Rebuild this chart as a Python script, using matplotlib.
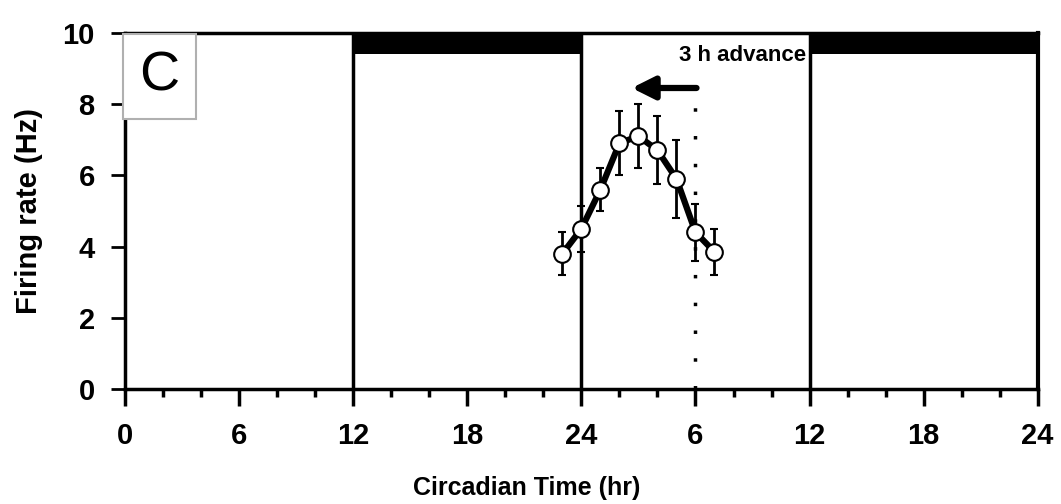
import matplotlib
matplotlib.use("Agg")
import matplotlib.pyplot as plt
from matplotlib.patches import Rectangle

# Firing rate after a 3 h advance (x in hours over two days)
ct_hours = [23, 24, 25, 26, 27, 28, 29, 30, 31]
rate_hz  = [3.8, 4.5, 5.6, 6.9, 7.1, 6.7, 5.9, 4.4, 3.85]
rate_err = [0.6, 0.65, 0.6, 0.9, 0.9, 0.95, 1.1, 0.8, 0.65]

dark_periods = [(12, 24), (36, 48)]
tick_pos     = [0, 6, 12, 18, 24, 30, 36, 42, 48]
tick_labels  = ["0", "6", "12", "18", "24", "6", "12", "18", "24"]
y_ticks      = [0, 2, 4, 6, 8, 10]

fig = plt.figure(figsize=(10.61, 5.04), dpi=100)
ax = fig.add_axes([0.118, 0.228, 0.860, 0.707])

fam = ["Liberation Sans", "DejaVu Sans"]
tick_font = {"family": fam, "weight": "bold", "size": 21}

# dark bars on top + vertical lines at light transitions
for start, end in dark_periods:
    ax.add_patch(Rectangle((start, 9.4), end - start, 0.6, color="black", lw=0, zorder=2))
for xv in [12, 24, 36]:
    ax.axvline(xv, color="black", lw=2.5, zorder=2)
ax.axvline(30, color="black", lw=2.5, ls=(0, (1, 7)), ymax=0.8, zorder=2)

ax.errorbar(ct_hours, rate_hz, yerr=rate_err, color="black", lw=4.5,
            elinewidth=2, capsize=3, capthick=2,
            marker="o", ms=12, mfc="white", mec="black", mew=1.5, zorder=4)

ax.annotate("", xy=(26.5, 8.45), xytext=(30.2, 8.45),
            arrowprops=dict(arrowstyle="-|>", color="black", lw=4.5,
                            mutation_scale=34), zorder=5)
ax.text(35.8, 9.35, "3 h advance", ha="right", va="center", fontsize=16,
        fontweight="bold", family=fam,
        bbox=dict(fc="white", ec="none", pad=1), zorder=3)

ax.text(1.8, 8.78, "C", ha="center", va="center", fontsize=40, family=fam,
        bbox=dict(fc="white", ec="#b0b0b0", lw=1.5, boxstyle="square,pad=0.3"), zorder=3)

ax.set_xlim(0, 48)
ax.set_ylim(0, 10)
ax.set_xticks(tick_pos)
ax.set_xticklabels(tick_labels, fontdict=tick_font)
ax.set_xticks(range(0, 49, 2), minor=True)
ax.set_yticks(y_ticks)
ax.set_yticklabels([str(v) for v in y_ticks], fontdict=tick_font)

ax.tick_params(axis="x", which="major", direction="out", length=12, width=2.5, pad=12)
ax.tick_params(axis="x", which="minor", direction="out", length=6, width=2.5)
ax.tick_params(axis="y", which="major", direction="out", length=10, width=2, pad=12)

for side in ["left", "bottom", "top"]:
    ax.spines[side].set_linewidth(2.5)
ax.spines["right"].set_linewidth(3)

ax.set_xlabel("Circadian Time (hr)", fontsize=18, fontweight="bold", family=fam)
ax.xaxis.set_label_coords(0.44, -0.245)
ax.set_ylabel("Firing rate (Hz)", fontsize=21, fontweight="bold", family=fam)
ax.yaxis.set_label_coords(-0.09, 0.5)

fig.savefig("out.png", dpi=100)
